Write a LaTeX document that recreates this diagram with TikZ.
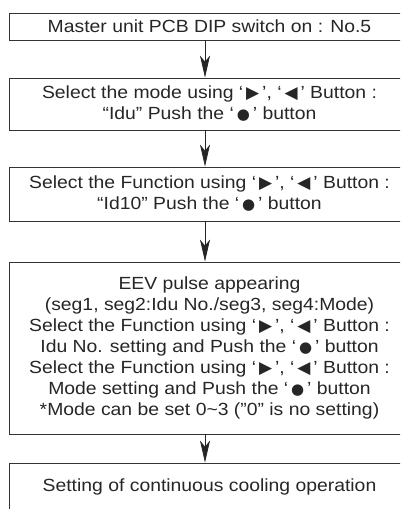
\documentclass[tikz,border=0pt]{standalone}
\usepackage{fontspec}
\setmainfont{Liberation Sans}[FakeStretch=1.1]
\newfontfamily\symfont{DejaVu Sans}
\usetikzlibrary{arrows.meta}
\newcommand{\btn}[1]{‘\,{\symfont\fontsize{17}{17}\selectfont #1}\,’}
\newcommand{\dotbtn}{‘\,{\symfont\fontsize{15}{15}\selectfont ●}\,’}

\begin{document}
\begin{tikzpicture}[x=1pt,y=1pt,
    stepbox/.style={draw=black!80, line width=0.8pt, minimum width=401pt, inner sep=0pt,
      align=center, text=black!85, font=\fontsize{17.6}{21}\selectfont},
    flow/.style={draw=black!85, line width=0.8pt, -{Stealth[length=22pt,width=10pt,inset=6pt]}}]
    \clip (0,0) rectangle (400,-509);

    % Steps of the setting
    \node[stepbox, minimum height=27pt] (sw) at (209.5,-26.5) {Master unit PCB DIP switch on : No.5};
    \node[stepbox, minimum height=52pt] (mode) at (209.5,-104)
      {Select the mode using \btn{▶}, \btn{◀} Button :\\“Idu” Push the \dotbtn{} button};
    \node[stepbox, minimum height=54pt] (func) at (209.5,-194)
      {Select the Function using \btn{▶}, \btn{◀} Button :\\“Id10” Push the \dotbtn{} button};
    \node[stepbox, minimum height=172pt] (eev) at (209.5,-348)
      {EEV pulse appearing\\(seg1, seg2:Idu No./seg3, seg4:Mode)\\
       Select the Function using \btn{▶}, \btn{◀} Button :\\Idu No. setting and Push the \dotbtn{} button\\
       Select the Function using \btn{▶}, \btn{◀} Button :\\Mode setting and Push the \dotbtn{} button\\
       *Mode can be set 0\textasciitilde3 ("0" is no setting)};
    \node[stepbox, minimum height=48pt] (cool) at (209.5,-487) {Setting of continuous cooling operation};

    % Arrows between the steps
    \foreach \a/\b in {sw/mode, mode/func, func/eev, eev/cool}
        \draw[flow] ([xshift=-4.5pt]\a.south) -- ([xshift=-4.5pt]\b.north);
\end{tikzpicture}
\end{document}
